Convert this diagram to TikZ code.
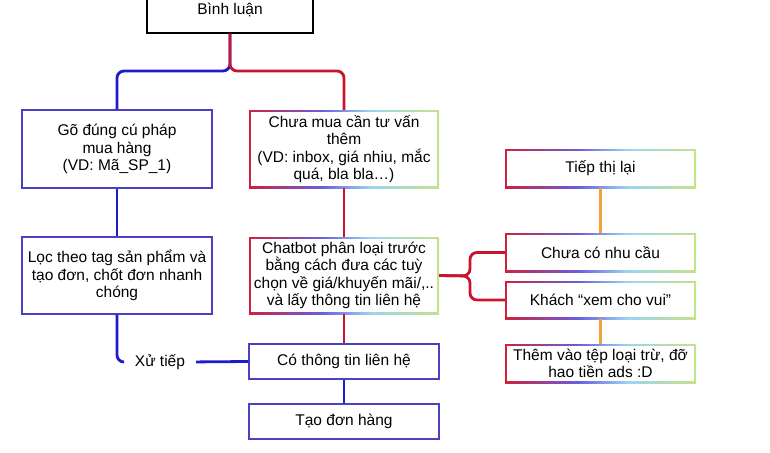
\documentclass[tikz,border=0pt]{standalone}
\usepackage{fontspec}
\setmainfont{Liberation Sans}
\usetikzlibrary{positioning}
\definecolor{rimred}{HTML}{D2203A}
\definecolor{rimblue}{HTML}{6A5CE0}
\definecolor{rimcyan}{HTML}{9CD4F0}
\definecolor{rimgreen}{HTML}{C4E28A}
\definecolor{boxblue}{HTML}{4A40C4}
\definecolor{lineblue}{HTML}{1C1CCC}
\definecolor{linered}{HTML}{C8142E}
\definecolor{lineorange}{HTML}{F0A23A}
\pgfdeclarehorizontalshading{rimshade}{100bp}{color(0bp)=(rimred); color(25bp)=(rimred); color(44bp)=(rimblue); color(57bp)=(rimcyan); color(75bp)=(rimgreen); color(100bp)=(rimgreen)}
\tikzset{
  box/.style={rectangle, fill=white, minimum width=190pt, inner sep=0pt, align=center,
    font=\fontsize{15.5}{17.5}\selectfont},
  bluebox/.style={box, draw=boxblue, line width=1.4pt},
  gradbox/.style={box, shade, shading=rimshade,
    path picture={\fill[white] ([shift={(1.6pt,-1.6pt)}]path picture bounding box.north west)
      rectangle ([shift={(-1.6pt,1.6pt)}]path picture bounding box.south east);}},
  blueline/.style={draw=lineblue, line width=2.8pt},
  redline/.style={draw=linered, line width=2.8pt},
  orangeline/.style={draw=lineorange, line width=2.4pt},
}
\begin{document}
\begin{tikzpicture}[x=1pt, y=-1pt]
            \useasboundingbox (0,0) rectangle (770,452);

            %Nodes
            \node[box, draw=black, line width=1.4pt, minimum width=166pt, minimum height=47pt] at (230,9.5) (binh) {Bình luận};
            \node[bluebox, minimum height=78pt] at (117,149) (gd) {Gõ đúng cú pháp\\mua hàng\\(VD: Mã\_SP\_1)};
            \node[gradbox, minimum height=78pt] at (344,149) (cm) {Chưa mua cần tư vấn\\thêm\\(VD: inbox, giá nhiu, mắc\\quá, bla bla…)};
            \node[bluebox, minimum height=77pt] at (117,275.5) (loc) {Lọc theo tag sản phẩm và\\tạo đơn, chốt đơn nhanh\\chóng};
            \node[gradbox, minimum height=77pt] at (344,275.5) (bot) {Chatbot phân loại trước\\bằng cách đưa các tuỳ\\chọn về giá/khuyến mãi/,..\\và lấy thông tin liên hệ};
            \node[bluebox, minimum height=35pt] at (344,361.5) (ctt) {Có thông tin liên hệ};
            \node[bluebox, minimum height=35pt] at (344,421.5) (tdh) {Tạo đơn hàng};
            \node[font=\fontsize{15.5}{17.5}\selectfont, inner sep=2pt] at (160,362) (xu) {Xử tiếp};
            \node[gradbox, minimum width=191pt, minimum height=39pt] at (600.5,168.5) (ttl) {Tiếp thị lại};
            \node[gradbox, minimum width=191pt, minimum height=39pt] at (600.5,252.5) (ncc) {Chưa có nhu cầu};
            \node[gradbox, minimum width=191pt, minimum height=38pt] at (600.5,300) (xcv) {Khách “xem cho vui”};
            \node[gradbox, minimum width=191pt, minimum height=39pt] at (600.5,363.5) (them) {Thêm vào tệp loại trừ, đỡ\\hao tiền ads :D};
            \coordinate (split) at (230,71);
            \coordinate (brk) at (470,276);

            %Lines
            \draw[blueline, rounded corners=7pt] (binh.south) -- (split) -| (gd.north);
            \draw[redline, rounded corners=7pt] (binh.south) -- (split) -| (cm.north);
            \draw[blueline] (gd.south) -- (loc.north);
            \draw[blueline, rounded corners=7pt, shorten >=10pt] (loc.south) |- (xu.west);
            \draw[blueline, shorten <=9pt] (xu.east) -- (ctt.west);
            \draw[blueline] (ctt.south) -- (tdh.north);
            \draw[redline] (cm.south) -- (bot.north);
            \draw[redline] (bot.south) -- (ctt.north);
            \draw[redline, rounded corners=7pt] (bot.east) -- (brk) |- (ncc.west);
            \draw[redline, rounded corners=7pt] (bot.east) -- (brk) |- (xcv.west);
            \draw[orangeline] (ttl.south) -- (ncc.north);
            \draw[orangeline] (xcv.south) -- (them.north);
        \end{tikzpicture}
\end{document}
